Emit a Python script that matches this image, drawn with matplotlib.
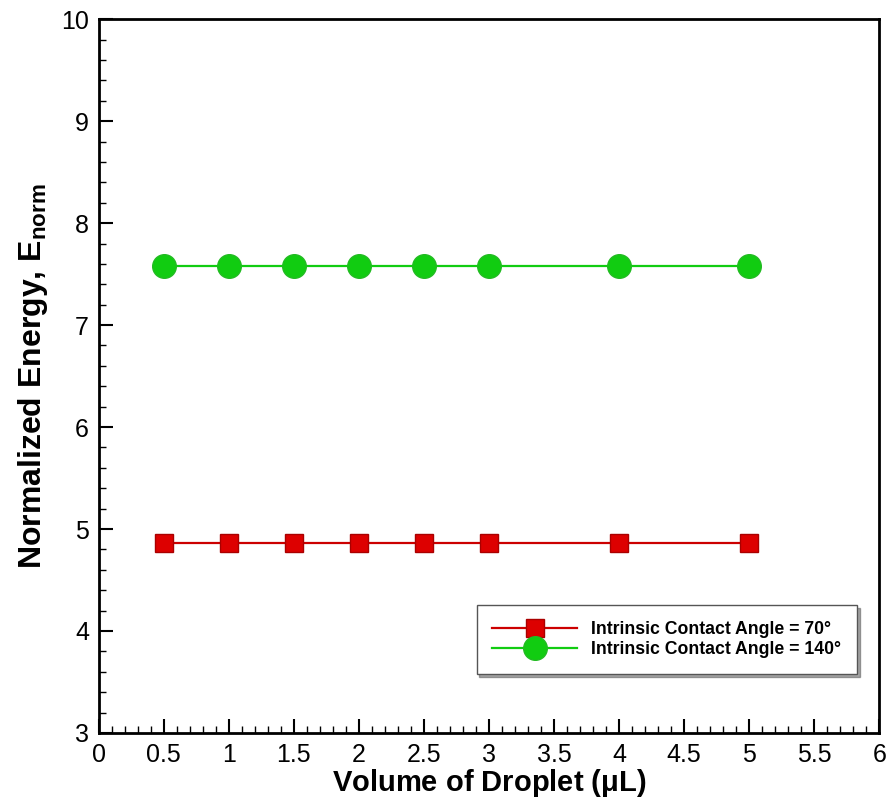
import matplotlib
matplotlib.use('Agg')
import matplotlib.pyplot as plt
from matplotlib.ticker import MultipleLocator

plt.rcParams['font.family'] = ['Liberation Sans', 'DejaVu Sans']

volume = [0.5, 1, 1.5, 2, 2.5, 3, 4, 5]
energy_70 = [4.86, 4.86, 4.86, 4.86, 4.86, 4.86, 4.86, 4.86]
energy_140 = [7.58, 7.58, 7.58, 7.58, 7.58, 7.58, 7.58, 7.58]
labels = ['Intrinsic Contact Angle = 70°', 'Intrinsic Contact Angle = 140°']

fig = plt.figure(figsize=(8.89, 8.01), dpi=100)
ax = fig.add_axes([0.111, 0.085, 0.878, 0.891])

ax.plot(volume, energy_70, color='#CC0000', lw=1.6, marker='s', ms=12.5,
        mfc='#DD0000', mec='#AA0000', label=labels[0])
ax.plot(volume, energy_140, color='#11CC11', lw=1.6, marker='o', ms=17,
        mfc='#11CC11', mec='#22BB22', label=labels[1])

ax.set_xlim(0, 6)
ax.set_ylim(3, 10)
ax.xaxis.set_major_locator(MultipleLocator(0.5))
ax.xaxis.set_minor_locator(MultipleLocator(0.1))
ax.yaxis.set_major_locator(MultipleLocator(1))
ax.yaxis.set_minor_locator(MultipleLocator(0.2))
ax.xaxis.set_major_formatter(plt.FuncFormatter(lambda v, p: '%g' % v))
ax.tick_params(which='both', direction='in', top=False, right=False,
               labelsize=18, width=1.5, pad=7)
ax.tick_params(which='major', length=10)
ax.tick_params(which='minor', length=5, width=1)
for s in ax.spines.values():
    s.set_linewidth(2)

ax.set_xlabel('Volume of Droplet ($\\mathregular{\\mu}$L)', fontsize=21, fontweight='bold', labelpad=0)
ax.set_ylabel('Normalized Energy, E$_{\\mathregular{norm}}$', fontsize=23, fontweight='bold', labelpad=8)

leg = ax.legend(loc='lower right', bbox_to_anchor=(0.983, 0.07),
                prop={'weight': 'bold', 'size': 12.7}, fancybox=False, shadow=True,
                edgecolor='#555555', handlelength=4.8, borderpad=0.9, labelspacing=0.2)
leg.get_frame().set_linewidth(1)

fig.savefig('out.png', dpi=100)
